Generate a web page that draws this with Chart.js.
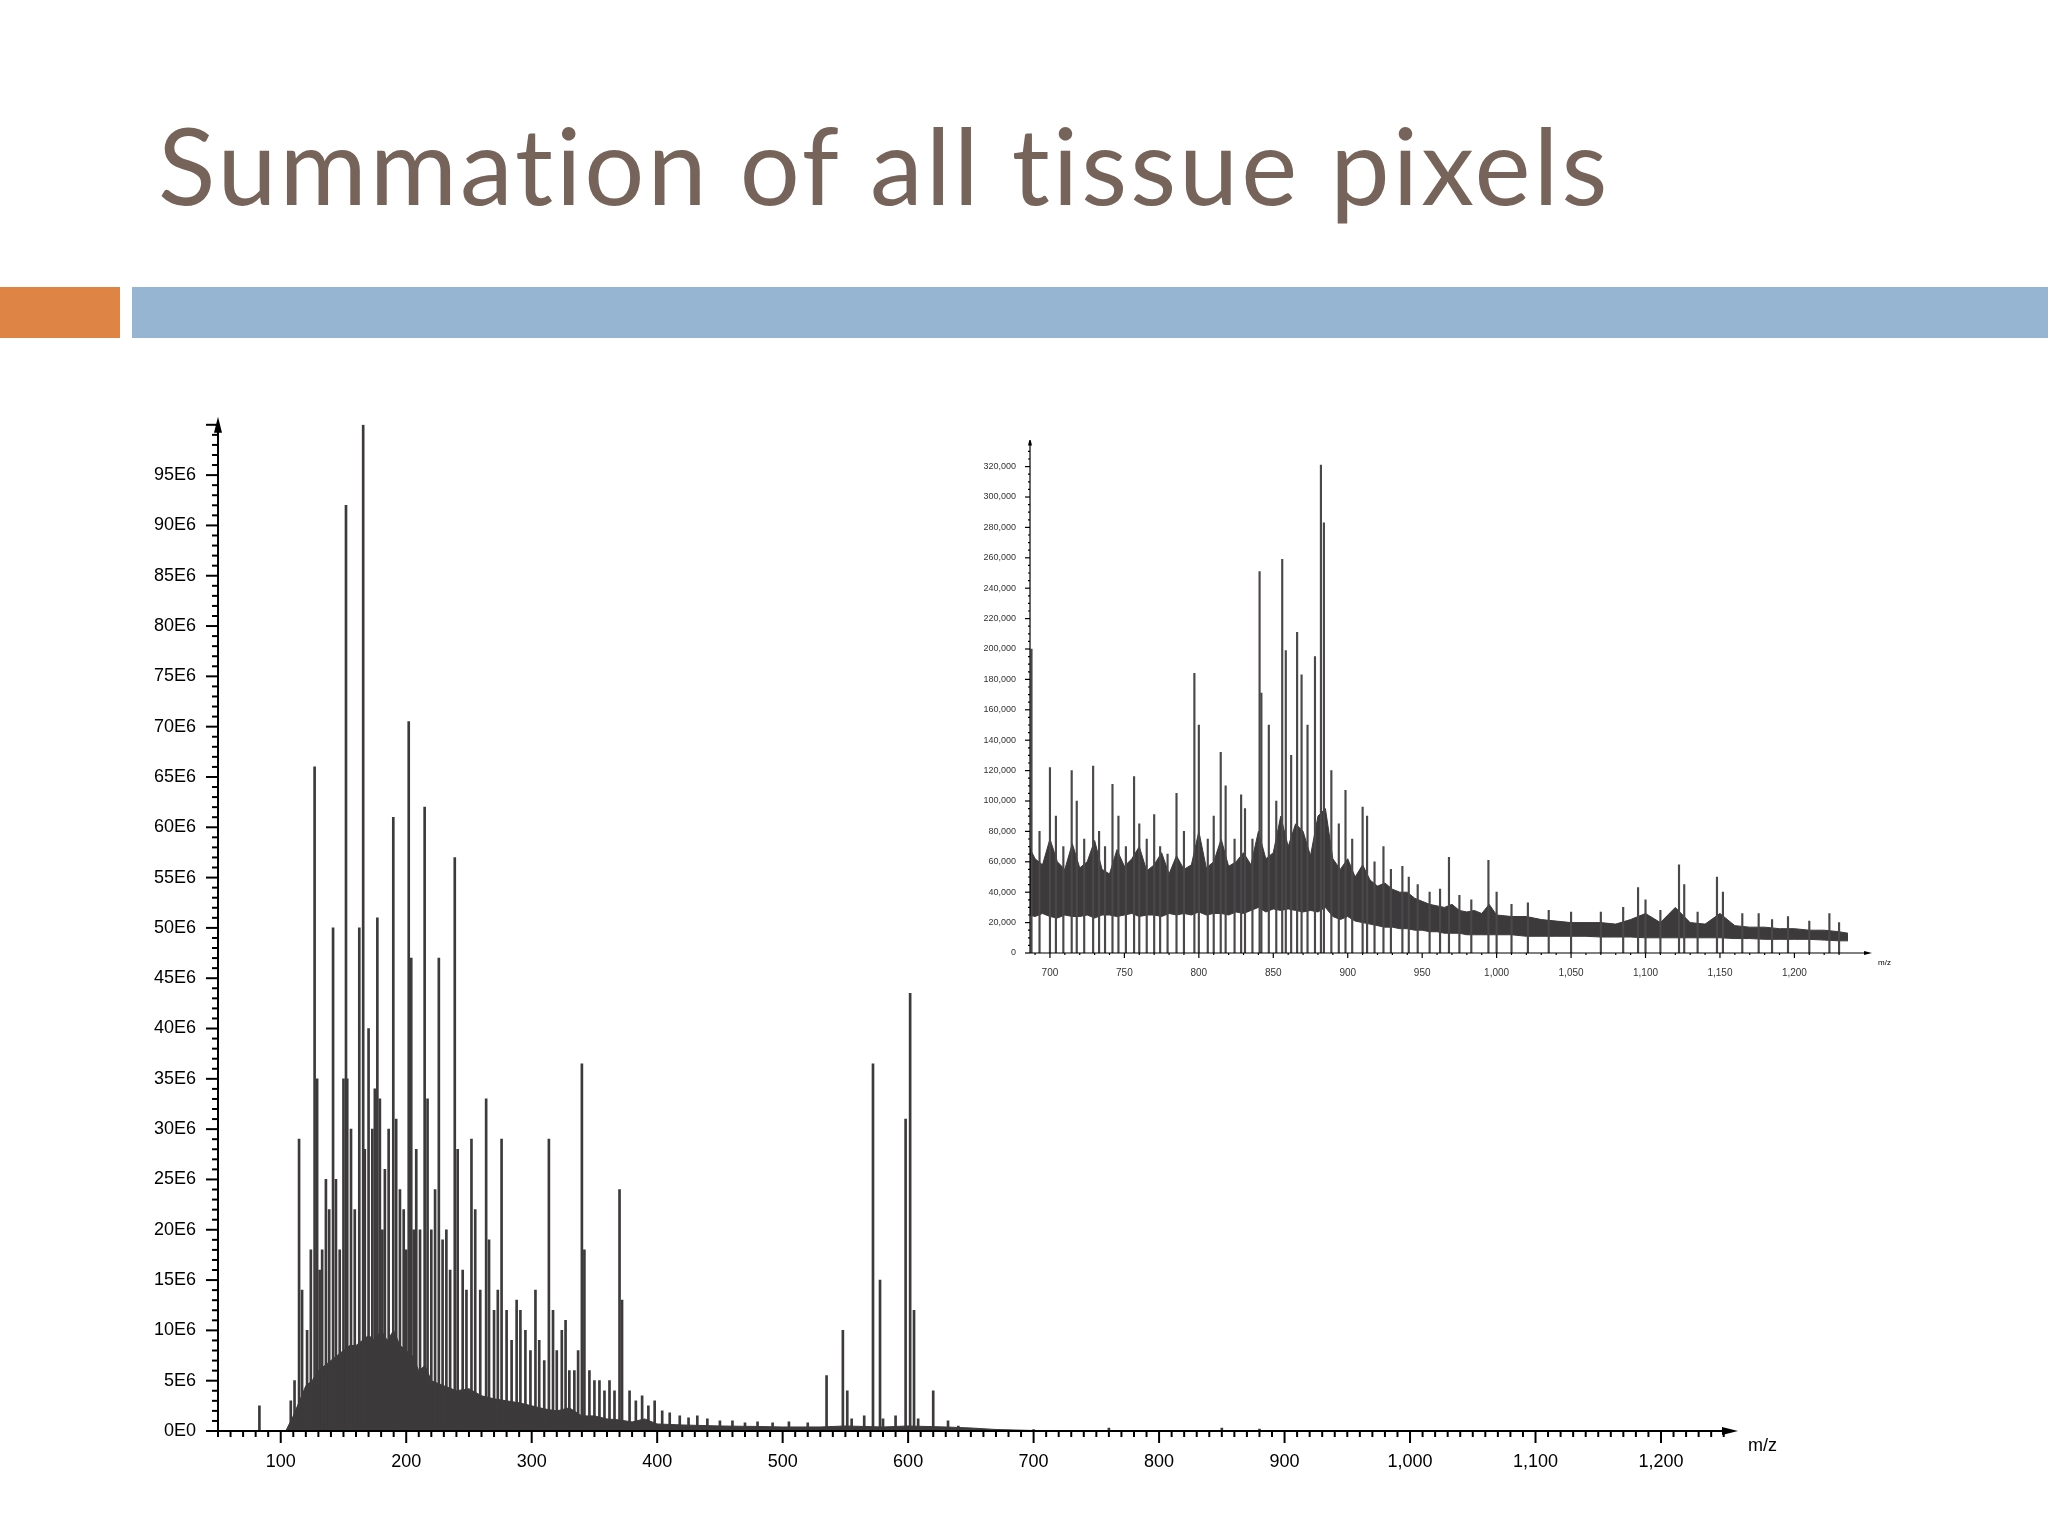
<!DOCTYPE html>
<html><head><meta charset="utf-8">
<script src="https://cdn.jsdelivr.net/npm/chart.js@4"></script>
<style>
body{margin:0;width:2048px;height:1536px;background:#fff;position:relative;overflow:hidden}
#title{position:absolute;left:158px;top:100px;font-family:Lato,'Open Sans',sans-serif;font-size:106px;color:#76645a;letter-spacing:3px;white-space:nowrap}
.bar{position:absolute;top:287px;height:51px}
#c1{position:absolute;left:100px;top:400px}
#c2{position:absolute;left:960px;top:440px}
</style></head><body>
<div id="title">Summation of all tissue pixels</div>
<div class="bar" style="left:0;width:120px;background:#de8445"></div>
<div class="bar" style="left:132px;width:1916px;background:#96b5d2"></div>
<canvas id="c1" width="1700" height="1080"></canvas>
<canvas id="c2" width="980" height="540"></canvas>
<script>
// main spectrum (intensity in units of 1E6)
const mainPeakMz  = [83,108,111,114.6,117,121,124,127,129,131,133,136,138.6,141.7,144,147,150,152,153,156,159,162.6,165.7,167,170,173,175,177,179,181,183,186,189.7,192,195,198,200,202,204,206,208,211,214.7,217,220,223,226,229,232,235,238.7,241,245,248,252,255,259,263.7,266,270,273,276,280,284,288,291,295,299,303,306,310,313.7,317,320,324,327,330,334,337,340,342,346,350,354,358,362,366,370,372,378,383,388,393,398,404,410,418,425,432,440,450,460,470,480,492,505,520,535,548,551.5,555,565,572,577.6,580,590,598,601.6,604.7,608,620,631.8,640,655,700,760,850,880,900];
const mainPeakInt = [2.5,3,5,29,14,10,18,66,35,16,18,25,22,50,25,18,35,92,35,30,22,50,100,28,40,30,34,51,33,20,26,30,61,31,24,22,18,70.5,47,20,28,20,62,33,20,24,47,19,20,16,57,28,16,14,29,22,14,33,19,12,14,29,12,9,13,12,10,8,14,9,7,29,12,8,10,11,6,6,8,36.5,18,6,5,5,4,5,4,24,13,4,3,3.5,2.5,3,2,1.8,1.5,1.3,1.5,1.2,1.0,1.0,0.8,0.9,0.8,0.9,0.8,5.5,10,4,1.2,1.5,36.5,15,1.2,1.5,31,43.5,12,1.2,4,1,0.5,0.2,0.15,0.3,0.3,0.2];
const mainEnvMz  = [50,104,106,110,115,120,125,130,135,140,145,150,155,160,165,170,175,180,185,190,195,200,205,210,215,220,230,240,250,260,270,280,290,300,310,320,330,340,350,360,370,380,390,400,420,450,480,500,530,550,580,600,630,650,670,700,1255];
const mainEnvInt = [0,0,0.5,1.5,3,4.5,5,6,6.5,7,7.5,8,8.5,8.5,9,9.5,9,10,9,10,8.5,8,7.5,6,6.5,5,4.5,4,4.2,3.5,3.2,3,2.8,2.5,2.2,2,2.3,1.5,1.5,1.2,1.1,0.9,1.2,0.7,0.6,0.5,0.45,0.4,0.4,0.5,0.4,0.5,0.4,0.3,0.15,0.05,0.02];
const mainYTicks = [0,5,10,15,20,25,30,35,40,45,50,55,60,65,70,75,80,85,90,95];
const mainXTicks = [100,200,300,400,500,600,700,800,900,1000,1100,1200];
// inset spectrum (intensity)
const insetPeakMz  = [687.6,693,700,704,709,714.6,718,723,729,733,737,742,746,751,756.5,760,765,770,774,779,785,790,797,800,806,810,814.7,818,824,828.4,831,836,840.8,842,847,852,856,858.4,862,866,869,873,878,882,884,889,894,898.5,903,910,913,918,924,929,936.7,941,947,955,962,968,975,983,994.5,1000,1010,1021,1035,1050,1070,1085,1095,1100,1110,1122.5,1126,1135,1148,1152,1165,1176,1185,1195.7,1210,1223.5,1230];
const insetPeakInt = [200000,80000,122000,90000,70000,120000,100000,75000,123000,80000,70000,111000,90000,70000,116000,85000,75000,91000,70000,65000,105000,80000,184000,150000,75000,90000,132000,110000,75000,104000,95000,75000,251000,171000,150000,100000,259000,199000,130000,211000,183000,150000,195000,321000,283000,120000,85000,107000,75000,96000,90000,60000,70000,55000,57000,50000,45000,40000,42000,63000,38000,35000,61000,40000,32000,33000,28000,27000,27000,30000,43000,35000,28000,58000,45000,27000,50000,40000,26000,26000,22000,24000,21000,26000,20000];
const insetEnvMz   = [686,690,695,700,705,710,715,720,725,730,735,740,745,750,755,760,765,770,775,780,785,790,795,800,805,810,815,820,825,830,835,840,845,850,855,860,865,870,875,880,885,890,895,900,905,910,915,920,925,930,935,940,945,950,955,960,965,970,975,980,985,990,995,1000,1010,1020,1030,1040,1050,1060,1070,1080,1090,1100,1110,1120,1130,1140,1150,1160,1170,1180,1190,1200,1210,1220,1230,1236];
const insetUpper   = [70000,62000,58000,75000,60000,55000,72000,56000,60000,74000,55000,52000,68000,57000,62000,70000,54000,58000,66000,52000,64000,55000,58000,80000,56000,60000,75000,57000,60000,66000,58000,80000,62000,66000,90000,70000,85000,80000,64000,90000,95000,62000,55000,62000,50000,58000,48000,44000,46000,42000,40000,40000,36000,34000,32000,31000,30000,32000,28000,27000,28000,26000,32000,25000,24000,24000,22000,21000,20000,20000,20000,19000,22000,26000,20000,30000,20000,19000,26000,18000,17000,17000,16000,16000,15000,15000,14000,13000];
const insetLower   = [25000,24000,26000,24000,23000,25000,24000,24000,25000,23000,25000,25000,24000,25000,26000,24000,25000,25000,24000,26000,25000,26000,25000,27000,25000,26000,26000,25000,27000,26000,28000,30000,27000,29000,28000,29000,28000,27000,28000,27000,30000,24000,22000,24000,21000,20000,19000,18000,17000,17000,16000,16000,15000,15000,14000,14000,13000,13000,13000,12000,12000,12000,12000,12000,12000,11000,11000,11000,11000,11000,10500,10500,10500,10000,10000,10000,10000,10000,10000,9500,9500,9000,9000,9000,9000,8500,8000,8000];
const insetYTicks  = [0,20000,40000,60000,80000,100000,120000,140000,160000,180000,200000,220000,240000,260000,280000,300000,320000];
const insetXTicks  = [700,750,800,850,900,950,1000,1050,1100,1150,1200];

const DARK='#3c3a3b';
const fontMain="'Liberation Sans Narrow','Liberation Sans',Arial,sans-serif";

function axisPlugin(opts){
  return {id:'ax',afterDraw(ch){
    const c=ch.ctx,x=ch.scales.x,y=ch.scales.y,a=ch.chartArea;
    c.save();c.strokeStyle='#000';c.fillStyle='#000';c.lineWidth=opts.lw;
    c.beginPath();c.moveTo(a.left,a.bottom);c.lineTo(a.left,a.top-opts.arrowUp);c.stroke();
    c.beginPath();c.moveTo(a.left,a.bottom);c.lineTo(a.right+opts.arrowRight,a.bottom);c.stroke();
    const s=opts.arrow;
    c.beginPath();c.moveTo(a.left,a.top-opts.arrowUp-s);c.lineTo(a.left-s/2,a.top-opts.arrowUp+s);c.lineTo(a.left+s/2,a.top-opts.arrowUp+s);c.fill();
    c.beginPath();c.moveTo(a.right+opts.arrowRight+s,a.bottom);c.lineTo(a.right+opts.arrowRight-s,a.bottom-s/2);c.lineTo(a.right+opts.arrowRight-s,a.bottom+s/2);c.fill();
    for(let v=0;v<=y.max;v+=opts.yMinor){
      const p=y.getPixelForValue(v);const major=Math.abs(v/opts.yMajor-Math.round(v/opts.yMajor))<1e-6;
      c.beginPath();c.moveTo(a.left,p);c.lineTo(a.left-(major?opts.tMaj:opts.tMin),p);c.stroke();
    }
    const start=Math.ceil(x.min/opts.xMinor)*opts.xMinor;
    for(let v=start;v<=x.max;v+=opts.xMinor){
      const p=x.getPixelForValue(v);const major=Math.abs(v/opts.xMajor-Math.round(v/opts.xMajor))<1e-6;
      c.beginPath();c.moveTo(p,a.bottom);c.lineTo(p,a.bottom+(major?opts.tMaj:opts.tMin));c.stroke();
    }
    c.font=opts.unitFont;c.textAlign='left';c.fillText('m/z',a.right+opts.unitDx,a.bottom+opts.unitDy);
    c.restore();
  }};
}

function pts(xs,ys){return xs.map((v,i)=>({x:v,y:ys[i]}));}

new Chart(document.getElementById('c1'),{
  type:'bar',
  data:{datasets:[
    {type:'line',data:pts(mainEnvMz,mainEnvInt.map(v=>v*1e6)),borderColor:DARK,backgroundColor:DARK,borderWidth:1,fill:'origin',pointRadius:0,tension:0,order:2},
    {type:'bar',data:pts(mainPeakMz,mainPeakInt.map(v=>v*1e6)),backgroundColor:DARK,barThickness:2,order:1}
  ]},
  options:{responsive:false,animation:false,events:[],
    layout:{padding:{top:14,right:70,left:0,bottom:0}},
    plugins:{legend:{display:false},tooltip:{enabled:false}},
    scales:{
      x:{type:'linear',offset:false,min:50,max:1255,grid:{display:false,offset:false},border:{display:false},
        afterFit(s){s.height=49;},
        afterBuildTicks(s){s.ticks=mainXTicks.map(v=>({value:v}));},
        ticks:{padding:12,color:'#000',font:{family:fontMain,size:18},maxRotation:0,autoSkip:false,callback:v=>v.toLocaleString('en-US')}},
      y:{min:0,max:100e6,grid:{display:false},border:{display:false},
        afterFit(s){s.width=118;},
        afterBuildTicks(s){s.ticks=mainYTicks.map(v=>({value:v*1e6}));},
        ticks:{padding:14,color:'#000',font:{family:fontMain,size:18},autoSkip:false,callback:v=>Math.round(v/1e6)+'E'+(v===0?'0':'6')}}
    }},
  plugins:[axisPlugin({lw:2,arrowUp:0,arrowRight:0,arrow:8,yMinor:1e6,yMajor:5e6,tMaj:12,tMin:6,xMinor:10,xMajor:100,unitFont:"18px "+fontMain,unitDx:18,unitDy:20})]
});

new Chart(document.getElementById('c2'),{
  type:'bar',
  data:{datasets:[
    {type:'line',data:pts(insetEnvMz,insetLower),borderColor:DARK,borderWidth:1,fill:false,pointRadius:0,tension:0,order:3},
    {type:'line',data:pts(insetEnvMz,insetUpper),borderColor:DARK,backgroundColor:DARK,borderWidth:1,fill:'-1',pointRadius:0,tension:0,order:2},
    {type:'bar',data:pts(insetPeakMz,insetPeakInt),backgroundColor:'#4a4849',barThickness:1.5,order:1}
  ]},
  options:{responsive:false,animation:false,events:[],
    layout:{padding:{top:5,right:92,left:0,bottom:0}},
    plugins:{legend:{display:false},tooltip:{enabled:false}},
    scales:{
      x:{type:'linear',offset:false,min:686.6,max:1236,grid:{display:false,offset:false},border:{display:false},
        afterFit(s){s.height=27;},
        afterBuildTicks(s){s.ticks=insetXTicks.map(v=>({value:v}));},
        ticks:{padding:6,color:'#333',font:{family:fontMain,size:10},maxRotation:0,autoSkip:false,callback:v=>v.toLocaleString('en-US')}},
      y:{min:0,max:330000,grid:{display:false},border:{display:false},
        afterFit(s){s.width=70;},
        afterBuildTicks(s){s.ticks=insetYTicks.map(v=>({value:v}));},
        ticks:{padding:6,color:'#333',font:{family:fontMain,size:9},autoSkip:false,callback:v=>v.toLocaleString('en-US')}}
    }},
  plugins:[axisPlugin({lw:1.2,arrowUp:10,arrowRight:20,arrow:4,yMinor:5000,yMajor:20000,tMaj:5,tMin:2,xMinor:10,xMajor:50,unitFont:"8px "+fontMain,unitDx:30,unitDy:12})]
});
</script>
</body></html>
